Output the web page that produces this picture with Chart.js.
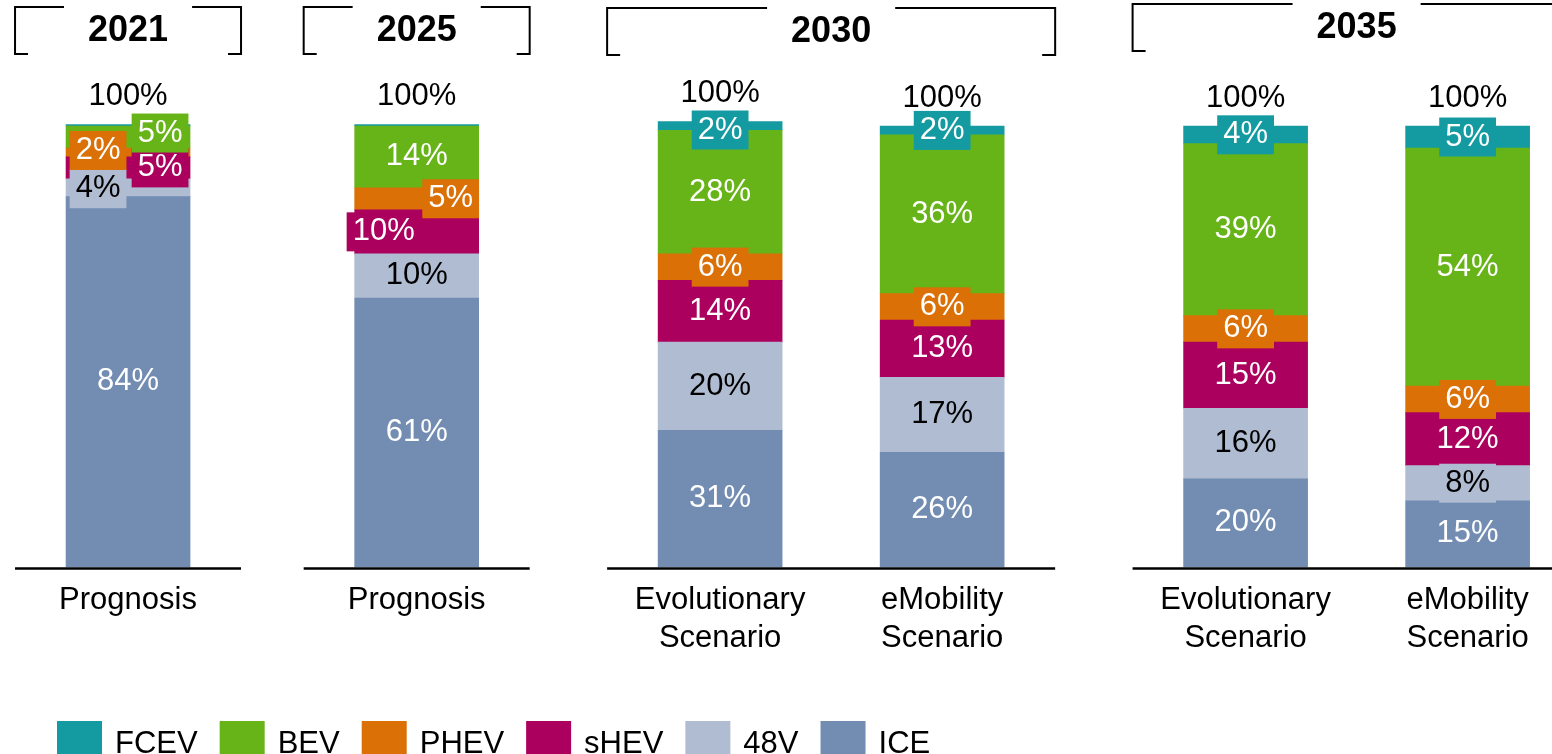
<!DOCTYPE html>
<html lang="en">
<head>
<meta charset="utf-8">
<title>Powertrain mix</title>
<script src="https://cdn.jsdelivr.net/npm/chart.js@4.4.1/dist/chart.umd.min.js"></script>
<style>
  html, body { margin: 0; padding: 0; background: #fff; overflow: hidden; }
  canvas { display: block; }
</style>
</head>
<body>
<canvas id="mixChart" width="1552" height="754"></canvas>
<script>
// share of new vehicles per powertrain, in percent
const scenarios = [["Prognosis"], ["Prognosis"], ["Evolutionary", "Scenario"], ["eMobility", "Scenario"], ["Evolutionary", "Scenario"], ["eMobility", "Scenario"]];
const years = ["2021", "2025", "2030", "2035"];
const yearOfBar = [0, 1, 2, 2, 3, 3];

const ice  = [84, 61, 31, 26, 20, 15];
const v48  = [4, 10, 20, 17, 16, 8];
const shev = [5, 10, 14, 13, 15, 12];
const phev = [2, 5, 6, 6, 6, 6];
const bev  = [5, 14, 28, 36, 39, 54];
const fcev = [0.3, 0.3, 2, 2, 4, 5];
const totals = [100, 100, 100, 100, 100, 100];

// where the bars sit on the x axis (1 unit = distance between two scenarios of one year)
const barSlots = [0, 3.9, 8, 11, 15.1, 18.1];
// top edge of the year brackets
const bracketTop = [7, 7, 8, 4];
// labels of thin segments get pushed aside so they don't collide
const labelNudge = {
  "0-PHEV": [-30, -2], "0-48V": [-30, 1], "0-sHEV": [32, 0], "0-BEV": [32, -4],
  "1-PHEV": [34, 0], "1-sHEV": [-33, 0],
  "2-FCEV": [0, 4]
};

const series = [
  { label: "ICE",  values: ice,  color: "#728cb2", text: "#fff" },
  { label: "48V",  values: v48,  color: "#b0bcd1", text: "#000" },
  { label: "sHEV", values: shev, color: "#ac005e", text: "#fff" },
  { label: "PHEV", values: phev, color: "#db7006", text: "#fff" },
  { label: "BEV",  values: bev,  color: "#67b419", text: "#fff" },
  { label: "FCEV", values: fcev, color: "#149ba1", text: "#fff" }
];

const FONT = '"Liberation Sans", Arial, sans-serif';

function line(ctx, x1, y1, x2, y2) {
  ctx.beginPath();
  ctx.moveTo(x1, y1);
  ctx.lineTo(x2, y2);
  ctx.stroke();
}

const decorations = {
  id: "decorations",
  afterDraw(chart) {
    const ctx = chart.ctx;
    const area = chart.chartArea;
    const metas = chart.data.datasets.map((d, i) => chart.getDatasetMeta(i));
    ctx.save();
    ctx.font = `31px ${FONT}`;
    ctx.textAlign = "center";
    ctx.textBaseline = "middle";

    // value labels on boxes in the segment colour
    chart.data.datasets.forEach((ds, di) => {
      metas[di].data.forEach((bar, i) => {
        const v = ds.data[i].y;
        if (v < 1) return;
        const txt = v + "%";
        const [dx, dy] = labelNudge[i + "-" + ds.label] || [0, 0];
        const cx = bar.x + dx;
        const cy = (bar.y + bar.base) / 2 + dy;
        const w = ctx.measureText(txt).width + 12;
        ctx.fillStyle = ds.backgroundColor;
        ctx.fillRect(cx - w / 2, cy - 19.5, w, 39);
        ctx.fillStyle = ds.labelColor;
        ctx.fillText(txt, cx, cy);
      });
    });

    // totals above the stacks
    ctx.fillStyle = "#000";
    totals.forEach((t, i) => {
      const top = Math.min(...metas.map(m => m.data[i].y));
      ctx.fillText(t + "%", metas[0].data[i].x, top - 28);
    });

    // scenario names under the bars
    scenarios.forEach((lines, i) => {
      const x = metas[0].data[i].x;
      lines.forEach((ln, k) => ctx.fillText(ln, x, area.bottom + 33 + k * 38));
    });

    // per-year baseline and bracket with the year
    ctx.strokeStyle = "#000";
    years.forEach((yr, g) => {
      const xs = metas[0].data.filter((b, i) => yearOfBar[i] === g).map(b => b.x);
      const left = Math.min(...xs) - 113;
      const right = Math.max(...xs) + 113;
      const mid = (left + right) / 2;

      ctx.lineWidth = 2.5;
      line(ctx, left, area.bottom + 1.5, right, area.bottom + 1.5);

      const top = bracketTop[g];
      const bottom = top + 47;
      ctx.font = `bold 36px ${FONT}`;
      const tw = ctx.measureText(yr).width;
      ctx.lineWidth = 2;
      ctx.beginPath();
      ctx.moveTo(left + 13, bottom);
      ctx.lineTo(left, bottom);
      ctx.lineTo(left, top);
      ctx.lineTo(mid - tw / 2 - 24, top);
      ctx.moveTo(mid + tw / 2 + 24, top);
      ctx.lineTo(right, top);
      ctx.lineTo(right, bottom);
      ctx.lineTo(right - 13, bottom);
      ctx.stroke();
      ctx.fillStyle = "#000";
      ctx.fillText(yr, mid, top + 24);
    });

    // legend along the bottom edge, top series first
    ctx.font = `31px ${FONT}`;
    ctx.textAlign = "left";
    ctx.textBaseline = "alphabetic";
    let lx = 57;
    [...chart.data.datasets].reverse().forEach(ds => {
      ctx.fillStyle = ds.backgroundColor;
      ctx.fillRect(lx, 721, 45, 40);
      ctx.fillStyle = "#000";
      ctx.fillText(ds.label, lx + 58, 753);
      lx += 58 + ctx.measureText(ds.label).width + 22;
    });
    ctx.restore();
  }
};

new Chart(document.getElementById("mixChart"), {
  type: "bar",
  data: {
    datasets: series.map(s => ({
      label: s.label,
      data: barSlots.map((x, i) => ({ x: x, y: s.values[i] })),
      backgroundColor: s.color,
      labelColor: s.text,
      barThickness: 124,
      borderWidth: 0,
      clip: false
    }))
  },
  options: {
    responsive: false,
    animation: false,
    devicePixelRatio: 1,
    events: [],
    layout: { padding: { top: 126, bottom: 187, left: 0, right: 0 } },
    plugins: { legend: { display: false }, tooltip: { enabled: false } },
    scales: {
      x: { type: "linear", stacked: true, display: false, offset: false, min: -1.73, max: 19.24 },
      y: { stacked: true, display: false, min: 0, max: 100 }
    }
  },
  plugins: [decorations]
});
</script>
</body>
</html>
